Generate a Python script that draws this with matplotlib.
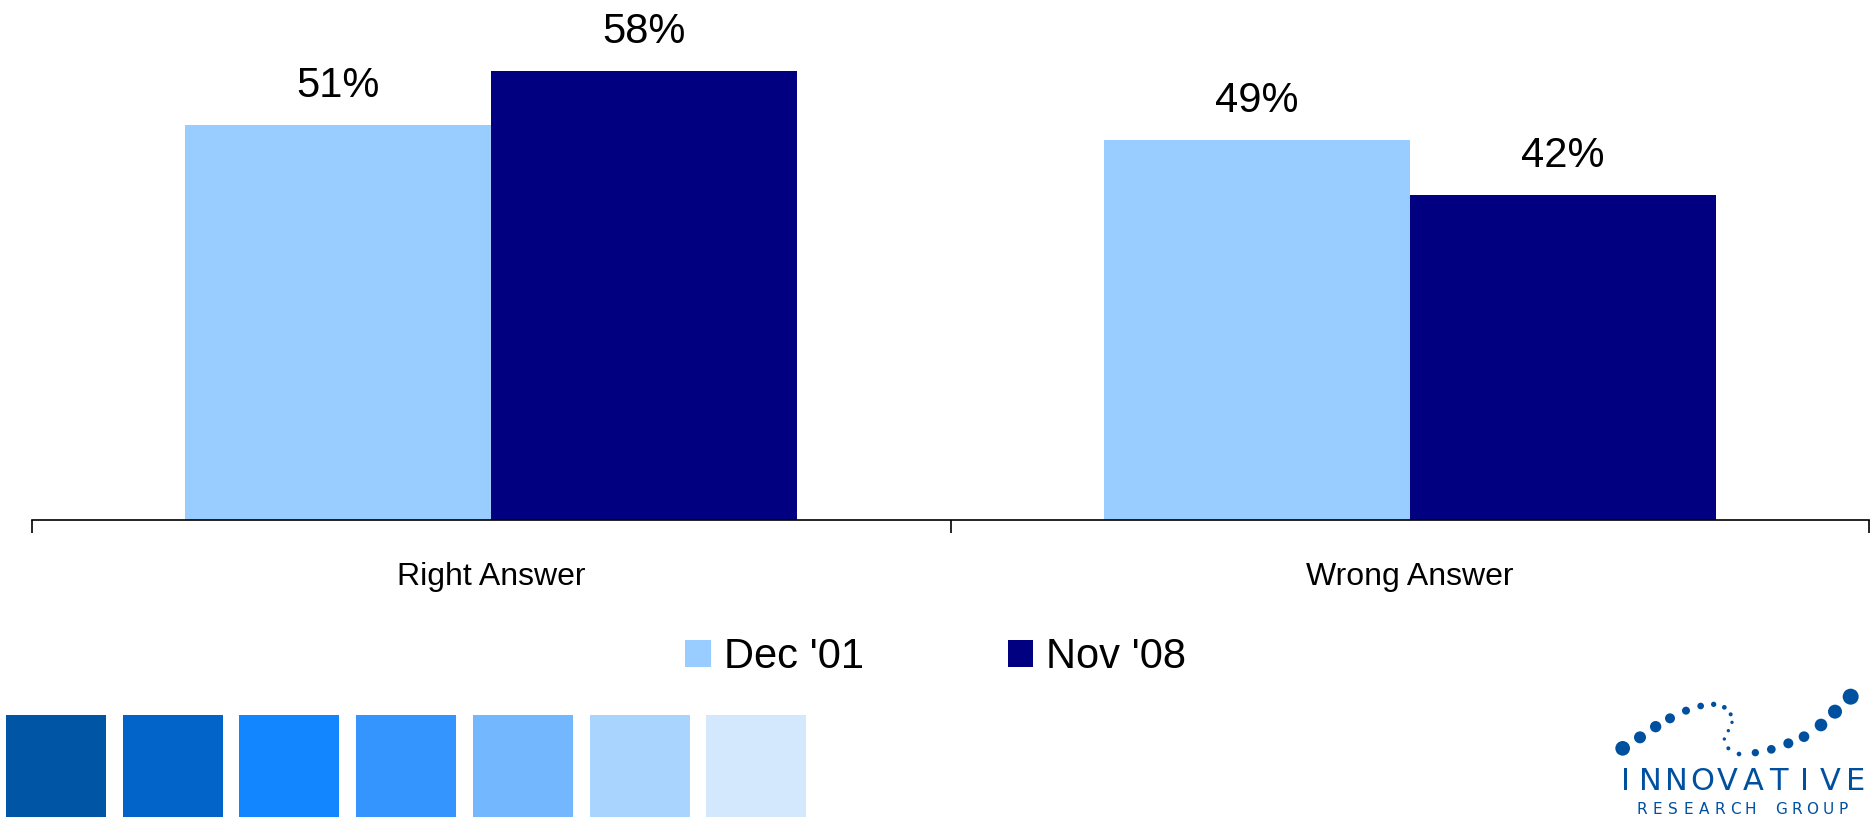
import matplotlib.pyplot as plt
from matplotlib.patches import Patch, Rectangle, Ellipse
from matplotlib import font_manager
import numpy as np

plt.rcParams['font.family'] = ['Liberation Sans', 'DejaVu Sans']

# data
categories = ["Right Answer", "Wrong Answer"]
series_names = ["Dec '01", "Nov '08"]
dec01 = [51, 49]
nov08 = [58, 42]
series_colors = ["#99CCFF", "#000080"]

# decorative colour strip at the bottom
strip_colors = ["#0055A4", "#0264C9", "#1186FF", "#3595FE", "#73B8FE", "#A8D4FD", "#D4E8FD"]

W, H = 1875, 817
fig = plt.figure(figsize=(W / 100, H / 100), dpi=100)

ax = fig.add_axes([32 / W, 1 - 520 / H, (1869 - 32) / W, 520 / H])
x = np.arange(len(categories))
bw = 1 / 3
b1 = ax.bar(x - bw / 2, dec01, bw, color=series_colors[0])
b2 = ax.bar(x + bw / 2, nov08, bw, color=series_colors[1])

for bars, vals in [(b1, dec01), (b2, nov08)]:
    for b, v in zip(bars, vals):
        ax.annotate(f"{v}%", (b.get_x() + b.get_width() / 2, v),
                    xytext=(0, 28), textcoords="offset points",
                    ha="center", va="center", fontsize=30)

ax.set_xlim(-0.5, 1.5)
ax.set_ylim(0, 67.1)
for s in ["top", "left", "right"]:
    ax.spines[s].set_visible(False)
ax.spines["bottom"].set_linewidth(1.2)
ax.set_yticks([])
ax.set_xticks(x)
ax.set_xticklabels(categories, fontsize=23)
ax.tick_params(axis="x", which="major", length=0, pad=30)
ax.set_xticks([-0.5, 0.5, 1.5], minor=True)
ax.tick_params(axis="x", which="minor", length=9, width=1.2, direction="out")

handles = [Patch(facecolor=c, edgecolor="none") for c in series_colors]
fig.legend(handles, series_names, loc="center", bbox_to_anchor=(0.499, 1 - 657 / H),
           ncol=2, frameon=False, fontsize=30, handlelength=0.62, handleheight=0.62,
           handletextpad=0.31, columnspacing=3.45)

# colour squares
for i, c in enumerate(strip_colors):
    x0 = 6 + i * 116.7
    fig.patches.append(Rectangle((x0 / W, 0), 100 / W, 102 / H, transform=fig.transFigure,
                                 facecolor=c, edgecolor="none"))

# logo
dots = [(188, 205, 22), (240, 172, 18), (287, 140, 17), (330, 115, 15), (378, 92, 12),
        (422, 78, 10), (461, 73, 8), (493, 82, 7), (512, 103, 6), (516, 127, 5),
        (505, 152, 5), (493, 177, 5), (505, 205, 6), (537, 222, 7), (586, 218, 11),
        (634, 208, 13), (685, 190, 15), (732, 170, 16), (783, 135, 19), (825, 95, 21),
        (872, 50, 24)]
logo_color = "#0050A0"
for dx, dy, r in dots:
    px = 1560 + dx / 3
    py = 680 + dy / 3
    d = 2 * r / 3
    fig.patches.append(Ellipse((px / W, 1 - py / H), d / W, d / H, transform=fig.transFigure,
                               facecolor=logo_color, edgecolor="none"))

names = {f.name for f in font_manager.fontManager.ttflist}
logo_font = "Liberation Sans Narrow" if "Liberation Sans Narrow" in names else "DejaVu Sans"
big = 27 if logo_font == "Liberation Sans Narrow" else 22
for i, ch in enumerate("INNOVATIVE"):
    px = 1625 + i * 25.6
    fig.text(px / W, 1 - 781 / H, ch, ha="center", va="center", fontsize=big,
             color=logo_color, family=logo_font)
for i, ch in enumerate("RESEARCH GROUP"):
    px = 1642 + i * 15.5
    fig.text(px / W, 1 - 809 / H, ch, ha="center", va="center", fontsize=11,
             color=logo_color, family=logo_font)

fig.savefig("out.png", dpi=100)
